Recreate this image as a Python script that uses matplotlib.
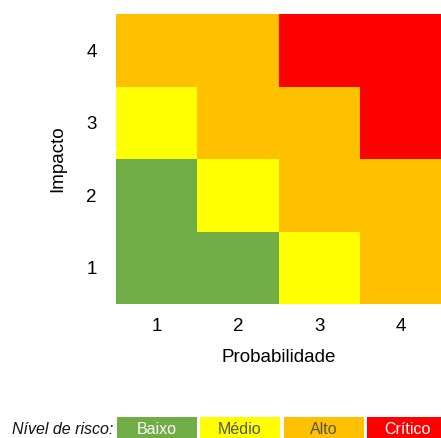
import matplotlib
matplotlib.use("Agg")
import matplotlib.pyplot as plt
import numpy as np
from matplotlib.colors import ListedColormap
from matplotlib.patches import Rectangle

plt.rcParams['font.family'] = ['Liberation Sans', 'DejaVu Sans']

probabilidade = [1, 2, 3, 4]
impacto = [1, 2, 3, 4]
# risk level per cell: rows = impacto 1..4, cols = probabilidade 1..4
# 0 = Baixo, 1 = Médio, 2 = Alto, 3 = Crítico
risk = [
    [0, 0, 1, 2],
    [0, 1, 2, 2],
    [1, 2, 2, 3],
    [2, 2, 3, 3],
]
level_names = ["Baixo", "Médio", "Alto", "Crítico"]
level_colors = ["#70AD47", "#FFFF00", "#FFC000", "#FF0000"]
level_text_colors = ["white", "#555555", "#555555", "white"]

W, H = 441, 438
fig = plt.figure(figsize=(W / 100, H / 100), dpi=100)
ax = fig.add_axes([116 / W, (H - 304) / H, (441 - 116) / W, (304 - 14) / H])

cmap = ListedColormap(level_colors)
x_edges = np.arange(len(probabilidade) + 1) + 0.5
y_edges = np.arange(len(impacto) + 1) + 0.5
ax.pcolormesh(x_edges, y_edges, np.array(risk), cmap=cmap, vmin=-0.5, vmax=3.5)

ax.set_xticks(probabilidade)
ax.set_yticks(impacto)
ax.set_xticklabels([str(p) for p in probabilidade])
ax.set_yticklabels([str(i) for i in impacto])
ax.tick_params(axis='both', length=0, labelsize=13.5)
ax.tick_params(axis='x', pad=10)
ax.tick_params(axis='y', pad=14)
for s in ax.spines.values():
    s.set_visible(False)
ax.set_xlabel("Probabilidade", fontsize=13.5, labelpad=10)
ax.set_ylabel("Impacto", fontsize=13.5, labelpad=14)

# Legend row
fig.text(113 / W, 1 - 430 / H, "Nível de risco:", fontsize=11.5, style='italic',
         ha='right', va='center', color='#111111')
box_left = [117, 200, 284, 367]
box_w = 80
box_top, box_bot = 417, 438
for name, col, tcol, bl in zip(level_names, level_colors, level_text_colors, box_left):
    fig.patches.append(Rectangle((bl / W, 1 - box_bot / H), box_w / W, (box_bot - box_top) / H,
                                 transform=fig.transFigure, facecolor=col, edgecolor='none'))
    fig.text((bl + box_w / 2) / W, 1 - 430 / H, name, fontsize=11.5, ha='center', va='center',
             color=tcol)

fig.savefig("out.png", dpi=100)
